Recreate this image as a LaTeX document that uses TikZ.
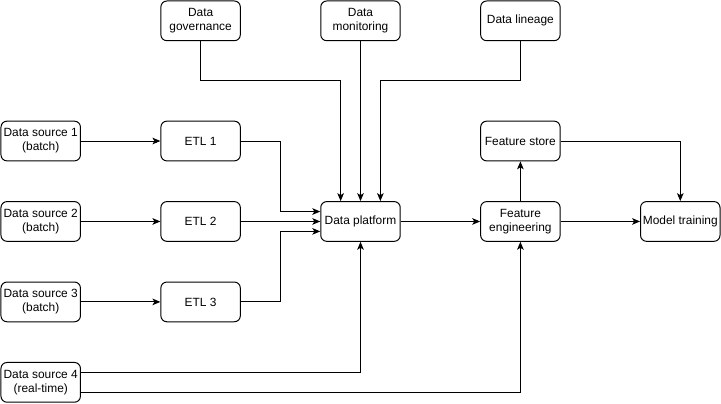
\documentclass[tikz,border=0pt]{standalone}
\usepackage{fontspec}
\setmainfont{Liberation Sans}
\usepackage{tikz}
\usetikzlibrary{arrows.meta,positioning,calc}
\tikzset{
  >=Stealth,
  every picture/.append style={line width=0.75pt},
  every node/.append style={font=\fontsize{9}{10.5}\selectfont},
}
\tikzset{
  box/.style={draw, rounded corners=4.5pt, align=center, inner sep=1pt, minimum width=60pt, minimum height=30pt},
  arrow/.style={-{Stealth[length=6pt, width=5pt, inset=1.5pt]}}
}

\begin{document}
\begin{tikzpicture}[
  node distance=30pt and 60pt
]
% Sources (left column)
\node[box] (src1) {Data source 1\\(batch)};
\node[box, below=of src1] (src2) {Data source 2\\(batch)};
\node[box, below=of src2] (src3) {Data source 3\\(batch)};
\node[box, below=of src3] (src4) {Data source 4\\(real-time)};

% ETL jobs
\node[box, right=of src1] (etl1) {ETL 1};
\node[box, right=of src2] (etl2) {ETL 2};
\node[box, right=of src3] (etl3) {ETL 3};

% Platform and ML chain
\node[box, right=of etl2] (platform) {Data platform};
\node[box, right=of platform] (feateng) {Feature\\engineering};
\node[box, above=of feateng] (featstore) {Feature store};
\node[box, right=of feateng] (training) {Model training};

% Supporting services (top row)
\node[box, above=60pt of etl1] (governance) {Data\\governance};
\node[box] (monitoring) at (governance -| platform) {Data\\monitoring};
\node[box] (lineage) at (governance -| feateng) {Data lineage};

% Fixed page frame
\useasboundingbox ($(governance.north -| src1.west)+(-0.375pt,0.375pt)$)
  rectangle ($(src4.south -| training.east)+(0.375pt,-0.375pt)$);

% Ingestion
\draw[arrow] (src1) -- (etl1);
\draw[arrow] (src2) -- (etl2);
\draw[arrow] (src3) -- (etl3);

% ETL into platform
\draw[arrow] (etl1.east) -- ++(30pt,0) |- ([yshift=7.5pt]platform.west);
\draw[arrow] (etl2) -- (platform);
\draw[arrow] (etl3.east) -- ++(30pt,0) |- ([yshift=-7.5pt]platform.west);

% Services into platform
\draw[arrow] (governance.south) -- ++(0,-30pt) -| ([xshift=-15pt]platform.north);
\draw[arrow] (monitoring) -- (platform);
\draw[arrow] (lineage.south) -- ++(0,-30pt) -| ([xshift=15pt]platform.north);

% Real-time source
\draw[arrow] ([yshift=7.5pt]src4.east) -| (platform.south);
\draw[arrow] ([yshift=-7.5pt]src4.east) -| (feateng.south);

% Features to training
\draw[arrow] (platform) -- (feateng);
\draw[arrow] (feateng) -- (featstore);
\draw[arrow] (featstore.east) -| (training.north);
\draw[arrow] (feateng) -- (training);

\end{tikzpicture}
\end{document}
